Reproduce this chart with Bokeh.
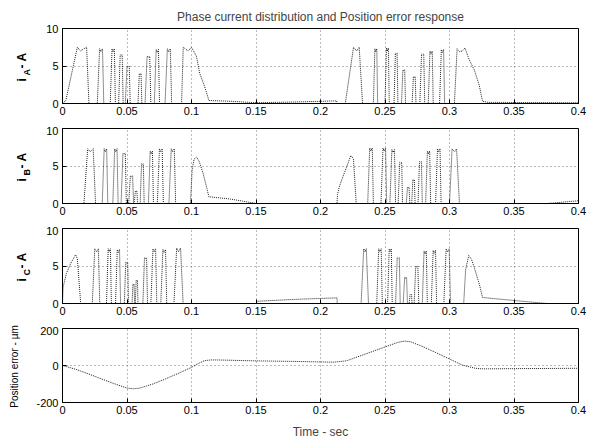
import numpy as np
from math import pi
from bokeh.plotting import figure
from bokeh.models import Range1d, FixedTicker
from bokeh.core.properties import value
from bokeh.layouts import column, row
from bokeh.embed import file_html
from bokeh.resources import INLINE

# ---------------- data ----------------
x_ticks = [0, 0.05, 0.1, 0.15, 0.2, 0.25, 0.3, 0.35, 0.4]
x_tick_labels = ["0", "0.05", "0.1", "0.15", "0.2", "0.25", "0.3", "0.35", "0.4"]
cur_ticks = [0, 5, 10]
err_ticks = [-200, 0, 200]
err_tick_labels = ["-200", "0", "200"]

# narrow chopping pulses: (start time, end time, peak current)
ia_pulses = [(0.027, 0.032, 7.3), (0.037, 0.041, 7.3), (0.0435, 0.047, 6.5), (0.0487, 0.0525, 5.0),
             (0.0585, 0.0615, 4.0), (0.064, 0.0685, 6.3), (0.0712, 0.0752, 7.2), (0.0795, 0.0846, 7.3),
             (0.241, 0.2443, 7.3), (0.25, 0.2533, 7.4), (0.257, 0.26, 6.7), (0.2628, 0.2659, 4.5),
             (0.271, 0.274, 3.6), (0.277, 0.2808, 6.6), (0.2835, 0.2874, 7.0), (0.2923, 0.2962, 7.2)]
ia_shape_t = [[0.0, 0.0026, 0.0115, 0.014, 0.0165, 0.0187, 0.0205],
              [0.0923, 0.0936, 0.0974, 0.1, 0.1038, 0.1064, 0.1103, 0.1135, 0.13, 0.15, 0.18, 0.2125, 0.2128],
              [0.2192, 0.2256, 0.228, 0.230, 0.2326],
              [0.3038, 0.3059, 0.308, 0.310, 0.312, 0.3154, 0.3192, 0.3231, 0.3256, 0.33, 0.4]]
ia_shape_v = [[0, 0.4, 7.5, 7.0, 7.3, 7.5, 0],
              [0, 7.5, 7.0, 7.5, 6.3, 4.0, 2.2, 0.4, 0.3, 0.1, 0.2, 0.35, 0],
              [0, 7.5, 7.0, 7.5, 0],
              [0, 7.3, 6.9, 7.0, 7.4, 5.8, 4.5, 2.4, 0.3, 0.15, 0.1]]

ib_pulses = [(0.0308, 0.0351, 7.3), (0.039, 0.0431, 7.3), (0.0454, 0.0495, 6.7), (0.0513, 0.0551, 3.7),
             (0.0556, 0.0582, 1.7), (0.0602, 0.0633, 5.3), (0.0666, 0.0705, 7.0), (0.0735, 0.0782, 7.3),
             (0.0825, 0.0877, 7.3),
             (0.2366, 0.241, 7.4), (0.2469, 0.2513, 7.4), (0.2538, 0.2582, 7.2), (0.2602, 0.2636, 5.5),
             (0.2665, 0.2692, 2.2), (0.2707, 0.2733, 3.2), (0.2756, 0.2789, 5.6), (0.2815, 0.2854, 7.0),
             (0.2892, 0.2935, 7.3)]
ib_shape_t = [[0.0166, 0.0195, 0.0215, 0.0238, 0.0256],
              [0.0992, 0.1005, 0.102, 0.1038, 0.106, 0.109, 0.1115, 0.1135, 0.13, 0.1487, 0.15],
              [0.2128, 0.2132, 0.2145, 0.217, 0.2205, 0.2235, 0.2255, 0.2277],
              [0.30, 0.302, 0.304, 0.3055, 0.3077],
              [0.3757, 0.399, 0.4]]
ib_shape_v = [[0, 7.3, 6.9, 7.3, 0],
              [0, 4.5, 5.9, 6.2, 5.6, 4.0, 2.3, 0.9, 0.6, 0.05, 0],
              [0, 1.2, 2.2, 3.4, 5.0, 6.4, 6.0, 0],
              [0, 7.3, 6.9, 7.3, 0],
              [0, 0.35, 0.4]]

ic_pulses = [(0.0341, 0.0379, 7.3), (0.0411, 0.045, 7.2), (0.0479, 0.0512, 5.5), (0.0539, 0.0559, 2.6),
             (0.0564, 0.0585, 3.1), (0.0623, 0.0659, 6.1), (0.0685, 0.0731, 7.3), (0.0762, 0.0808, 7.2),
             (0.2436, 0.2479, 7.3), (0.252, 0.2556, 7.3), (0.2582, 0.2618, 6.1), (0.2641, 0.2674, 3.5),
             (0.2687, 0.271, 1.2), (0.2726, 0.2762, 5.0), (0.2789, 0.2828, 7.0), (0.2859, 0.29, 7.1),
             (0.2956, 0.3008, 7.3)]
ic_shape_t = [[0.0, 0.0005, 0.003, 0.0065, 0.0102, 0.0115, 0.0141],
              [0.0231, 0.025, 0.0265, 0.0278, 0.0289],
              [0.0864, 0.0885, 0.09, 0.0915, 0.0935],
              [0.15, 0.151, 0.18, 0.2128, 0.213],
              [0.2315, 0.2335, 0.2345, 0.2355, 0.2372],
              [0.311, 0.3125, 0.3149, 0.317, 0.3192, 0.3231, 0.3256, 0.35, 0.3756]]
ic_shape_v = [[0, 2.2, 4.0, 5.4, 6.5, 6.0, 0],
              [0, 7.3, 6.9, 7.3, 0],
              [0, 7.4, 6.9, 7.4, 0],
              [0, 0.3, 0.55, 0.75, 0],
              [0, 7.3, 6.9, 7.3, 0],
              [0, 4.5, 6.4, 5.9, 4.8, 2.6, 0.8, 0.4, 0]]

err_t = [0, 0.01, 0.02, 0.03, 0.04, 0.05, 0.055, 0.06, 0.07, 0.08, 0.09, 0.1, 0.105, 0.11, 0.115,
         0.12, 0.15, 0.18, 0.21, 0.22, 0.23, 0.24, 0.25, 0.26, 0.265, 0.27, 0.28, 0.29, 0.3, 0.31,
         0.32, 0.325, 0.33, 0.35, 0.4]
err_v = [0, -20, -45, -72, -98, -122, -126, -122, -100, -72, -42, -10, 10, 26, 30,
         30, 25, 22, 18, 25, 50, 75, 100, 125, 132, 128, 100, 68, 35, 2,
         -15, -18, -18, -17, -15]


def build(pulses, shape_t, shape_v):
    segs = []
    for s, e, pk in pulses:
        w = e - s
        segs.append(([s, s + 0.35 * w, s + 0.55 * w, s + 0.8 * w, e],
                     [0, pk, pk - 0.4 if pk > 6.8 else pk - 0.1, pk, 0]))
    for tt, vv in zip(shape_t, shape_v):
        segs.append((tt, vv))
    segs.sort(key=lambda sv: sv[0][0])
    t, v = [0.0], [0.0]
    for tt, vv in segs:
        t.extend(tt)
        v.extend(vv)
    if t[-1] < 0.4:
        t.append(0.4)
        v.append(0.0)
    return t, v


FONT = "Liberation Sans"
TOTAL_H = 441
LAB_W = 33          # width of the label strip on the left
LEFT, RIGHT = 27, 12
MAIN_W = 590 - LAB_W


def make_fig(height, top, bottom, yr, yticks, ylabels=None):
    p = figure(width=MAIN_W, height=height, min_border_left=LEFT, min_border_right=RIGHT,
               min_border_top=top, min_border_bottom=bottom,
               x_range=Range1d(0, 0.4), y_range=Range1d(*yr),
               toolbar_location=None, output_backend="svg")
    p.outline_line_color = "black"
    p.outline_line_width = 1
    p.background_fill_color = "white"
    p.border_fill_color = "white"
    for ax in (p.xaxis[0], p.yaxis[0]):
        ax.major_tick_in = 4
        ax.major_tick_out = 0
        ax.minor_tick_line_color = None
        ax.axis_line_color = "black"
        ax.major_label_text_font = FONT
        ax.major_label_text_font_size = "11px"
        ax.major_label_text_color = "black"
    p.xaxis.ticker = FixedTicker(ticks=x_ticks)
    p.xaxis.major_label_overrides = {k: l for k, l in zip(x_ticks, x_tick_labels)}
    p.xaxis.major_label_standoff = 3
    p.yaxis.ticker = FixedTicker(ticks=yticks)
    if ylabels:
        p.yaxis.major_label_overrides = {k: l for k, l in zip(yticks, ylabels)}
    p.yaxis.major_label_standoff = 4
    p.xgrid.ticker = FixedTicker(ticks=x_ticks)
    p.ygrid.ticker = FixedTicker(ticks=yticks)
    for g in (p.xgrid[0], p.ygrid[0]):
        g.grid_line_color = "#777777"
        g.grid_line_dash = "1 3"
        g.grid_line_width = 1
    return p


# a bare strip on the left, whose data units are pixels (x from left, y from bottom)
strip = figure(width=LAB_W, height=TOTAL_H, min_border=0, x_range=Range1d(0, LAB_W),
               y_range=Range1d(0, TOTAL_H), toolbar_location=None, output_backend="svg")
strip.axis.visible = False
strip.grid.visible = False
strip.outline_line_color = None
strip.border_fill_color = "white"


def add_ilabel(frame_top, sub):
    yy = lambda off: TOTAL_H - (frame_top + off)
    common = dict(angle=pi / 2, text_align="left", text_baseline="middle",
                  text_font=value(FONT), text_font_style="bold", text_color="black")
    strip.text(x=[21], y=[yy(53)], text=["i"], text_font_size="12px", **common)
    strip.text(x=[26], y=[yy(47)], text=[sub], text_font_size="9px", **common)
    strip.text(x=[21], y=[yy(40)], text=["- A"], text_font_size="12px", **common)


LINE = dict(line_color="#222222", line_width=1, line_dash="1 1")

# panel 1
p1 = make_fig(126, 28, 23, (0, 10), cur_ticks)
p1.title.text = "Phase current distribution and Position error response"
p1.title.align = "center"
p1.title.text_font = FONT
p1.title.text_font_size = "12px"
p1.title.text_font_style = "normal"
p1.title.offset = 8
t, v = build(ia_pulses, ia_shape_t, ia_shape_v)
p1.line(t, v, **LINE)
add_ilabel(28, "A")

# panel 2
p2 = make_fig(100, 2, 23, (0, 10), cur_ticks)
t, v = build(ib_pulses, ib_shape_t, ib_shape_v)
p2.line(t, v, **LINE)
add_ilabel(128, "B")

# panel 3
p3 = make_fig(100, 2, 23, (0, 10), cur_ticks)
t, v = build(ic_pulses, ic_shape_t, ic_shape_v)
p3.line(t, v, **LINE)
add_ilabel(228, "C")

# panel 4
p4 = make_fig(115, 2, 38, (-200, 200), err_ticks, err_tick_labels)
p4.line(err_t, err_v, **LINE)
p4.xaxis.axis_label = "Time - sec"
p4.xaxis.axis_label_text_font = FONT
p4.xaxis.axis_label_text_font_size = "12px"
p4.xaxis.axis_label_text_font_style = "normal"
p4.xaxis.axis_label_standoff = 8
strip.text(x=[14], y=[TOTAL_H - 366], text=["Position error - µm"], angle=pi / 2,
           text_align="center", text_baseline="middle", text_font=value(FONT),
           text_font_size="10px", text_color="black")

layout = row(strip, column(p1, p2, p3, p4, spacing=0), spacing=0)
open("out.html", "w").write(file_html(layout, INLINE))
